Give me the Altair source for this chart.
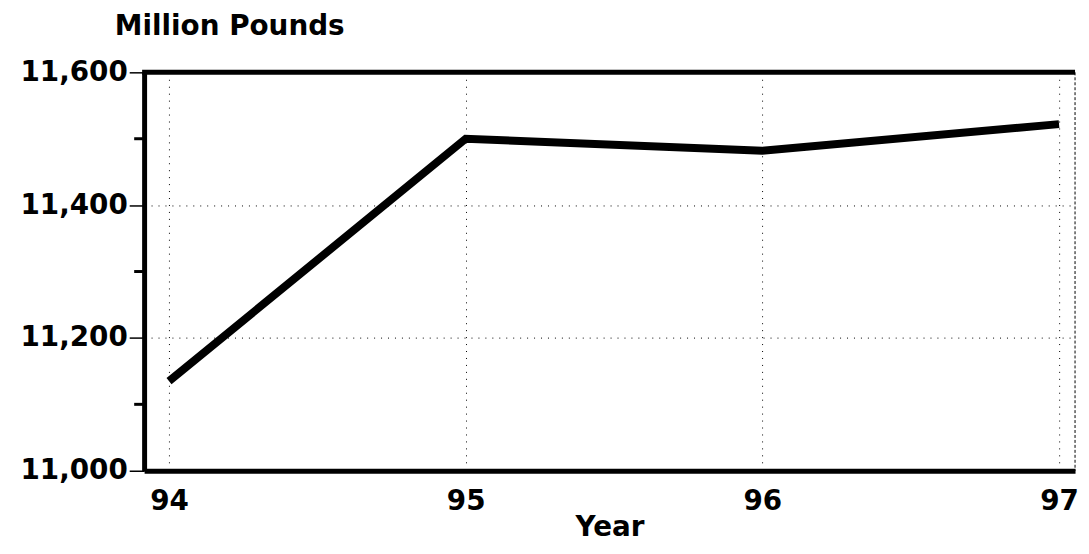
import altair as alt
import pandas as pd

# ---- data ----
years = [94, 95, 96, 97]
pounds = [11135, 11500, 11482, 11522]
x_ticks = [94, 95, 96, 97]
y_major = [11000, 11200, 11400, 11600]
y_minor = [11100, 11300, 11500]
y_min, y_max = 11000, 11600
x_min, x_max = 93.916, 97.054
y_title = "Million Pounds"
x_title = "Year"

W, H = 937, 401
FONT = "DejaVu Sans"
FS = 28

df = pd.DataFrame({"year": years, "pounds": pounds})
minor_df = pd.DataFrame({"v": y_minor})
top_df = pd.DataFrame({"v": [y_max]})

xs = alt.Scale(domain=[x_min, x_max], nice=False, zero=False)
ys = alt.Scale(domain=[y_min, y_max], nice=False, zero=False)

x_axis = alt.Axis(
    values=x_ticks, format="d", title=x_title,
    grid=True, gridDash=[1, 6], gridColor="black", gridWidth=1, gridOpacity=1,
    ticks=False, domainWidth=5, domainColor="black",
    labelFont=FONT, labelFontSize=FS, labelFontWeight="bold", labelColor="black",
    labelPadding=17,
    titleFont=FONT, titleFontSize=FS, titleFontWeight="bold", titleColor="black",
    titlePadding=-2,
)
y_axis = alt.Axis(
    values=y_major, format=",.0f", title=y_title,
    grid=True, gridDash=[1, 6], gridColor="black", gridWidth=1, gridOpacity=1,
    tickSize=15, tickWidth=1.5, tickColor="black",
    domainWidth=5, domainColor="black",
    labelFont=FONT, labelFontSize=FS, labelFontWeight="bold", labelColor="black",
    labelPadding=2,
    titleFont=FONT, titleFontSize=FS, titleFontWeight="bold", titleColor="black",
    titleAngle=0, titleAlign="left", titleBaseline="middle", titleX=-30, titleY=-46,
)

line = alt.Chart(df).mark_line(color="black", strokeWidth=8).encode(
    x=alt.X("year:Q", scale=xs, axis=x_axis),
    y=alt.Y("pounds:Q", scale=ys, axis=y_axis),
)

minor = alt.Chart(minor_df).mark_rule(color="black", strokeWidth=3).encode(
    y=alt.Y("v:Q", scale=ys, axis=y_axis),
    x=alt.value(-10),
    x2=alt.value(0),
)

top = alt.Chart(top_df).mark_rule(color="black", strokeWidth=5).encode(
    y=alt.Y("v:Q", scale=ys, axis=y_axis),
    x=alt.value(-2),
    x2=alt.value(W),
)

right = alt.Chart(top_df).mark_rule(color="black", strokeWidth=1, strokeDash=[3, 2]).encode(
    x=alt.value(W),
    y=alt.value(0),
    y2=alt.value(H),
)

chart = alt.layer(line, minor, top, right).properties(
    width=W, height=H,
    autosize=alt.AutoSizeParams(type="none"),
    padding={"left": 137, "top": 63, "right": 6, "bottom": 74},
).configure_view(stroke=None)

chart.save("out.html", embed_options={"renderer": "svg", "actions": False})
